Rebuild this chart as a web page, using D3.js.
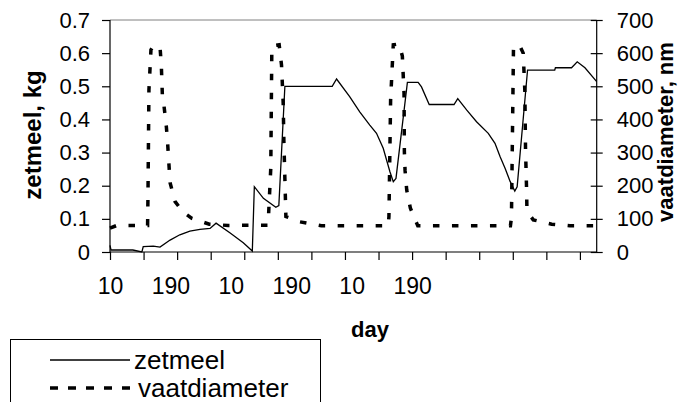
<!DOCTYPE html>
<html>
<head>
<meta charset="utf-8">
<script src="https://cdn.jsdelivr.net/npm/d3@7"></script>
<style>
  body { margin: 0; background: #fff; }
  text { font-family: Arial, "Liberation Sans", sans-serif; fill: #000; }
</style>
</head>
<body>
<div id="chart"></div>
<script>
// x = day index from the first sample, labels show day of year
var labelDays = [0, 180, 360, 540, 720, 900];
var labelText = ["10", "190", "10", "190", "10", "190"];
var tickDays = [0, 100, 200, 300, 400, 500, 600, 700, 800, 900, 1000, 1100, 1200, 1300, 1400];
var leftTicks = [0, 0.1, 0.2, 0.3, 0.4, 0.5, 0.6, 0.7];
var rightTicks = [0, 100, 200, 300, 400, 500, 600, 700];

// zetmeel, kg
var zetDays = [0, 3, 68, 95, 99, 129, 149, 179, 208, 238, 268, 298, 316, 357, 397, 424,
  430, 457, 494, 503, 521, 662, 675, 714, 744, 774, 794, 814, 834, 844, 852, 886, 918,
  928, 951, 1025, 1036, 1063, 1092, 1127, 1147, 1162, 1177, 1192, 1206, 1213, 1244,
  1325, 1327, 1375, 1392, 1415, 1450];
var zetVals = [0.02, 0.006, 0.006, 0, 0.016, 0.018, 0.015, 0.036, 0.052, 0.063, 0.068, 0.071, 0.087, 0.058, 0.028, 0.003,
  0.197, 0.162, 0.135, 0.14, 0.5, 0.5, 0.522, 0.469, 0.423, 0.383, 0.358, 0.313, 0.242, 0.212, 0.222, 0.512, 0.512,
  0.498, 0.445, 0.445, 0.463, 0.428, 0.393, 0.358, 0.328, 0.288, 0.253, 0.213, 0.184, 0.197, 0.549,
  0.549, 0.556, 0.556, 0.574, 0.556, 0.514];

// vaatdiameter, nm
var vaatDays = [0, 20, 112, 113, 116, 122, 128, 149, 153, 156, 161, 168, 172, 179, 194, 217, 243, 296, 352,
  471, 479, 482, 485, 504, 511, 516, 518, 521, 524, 566, 630,
  829, 831, 836, 844, 861, 871, 876, 877, 879, 884, 895, 917,
  1193, 1196, 1202, 1209, 1221, 1231, 1236, 1238, 1241, 1242, 1248, 1261, 1316, 1370, 1450];
var vaatVals = [72, 80, 80, 157, 489, 610, 620, 620, 561, 474, 440, 377, 323, 209, 152, 121, 102, 84, 80,
  81, 253, 600, 622, 625, 564, 449, 335, 222, 107, 91, 79,
  79, 107, 459, 625, 628, 591, 479, 303, 247, 187, 132, 79,
  79, 103, 610, 626, 622, 600, 484, 308, 192, 137, 115, 97, 84, 79, 79];

var width = 678, height = 402;
var plotL = 110, plotR = 596.7, plotT = 20, plotB = 252;

var svg = d3.select("#chart").append("svg").attr("width", width).attr("height", height);

var x = d3.scaleLinear().domain([0, 1450]).range([plotL, plotR]);
var yL = d3.scaleLinear().domain([0, 0.7]).range([plotB, plotT]);
var yR = d3.scaleLinear().domain([0, 700]).range([plotB, plotT]);

// top border
svg.append("line").attr("x1", plotL).attr("x2", plotR).attr("y1", plotT).attr("y2", plotT)
  .attr("stroke", "#808080").attr("stroke-width", 1);

// left axis
var gL = svg.append("g").attr("transform", "translate(" + plotL + ",0)")
  .call(d3.axisLeft(yL).tickValues(leftTicks).tickSize(8).tickPadding(12)
    .tickFormat(function(d){ return d === 0 ? "0" : d3.format(".1f")(d); }));
// right axis
var gR = svg.append("g").attr("transform", "translate(" + plotR + ",0)")
  .call(d3.axisRight(yR).tickValues(rightTicks).tickSize(6).tickPadding(14).tickFormat(d3.format("d")));
gR.selectAll(".tick line").attr("x1", -6);
// x axis ticks
var gX = svg.append("g").attr("transform", "translate(0," + plotB + ")")
  .call(d3.axisBottom(x).tickValues(tickDays).tickSize(8).tickFormat(""));
// x labels
var gX2 = svg.append("g").attr("transform", "translate(0," + plotB + ")")
  .call(d3.axisBottom(x).tickValues(labelDays).tickSize(0).tickPadding(26)
    .tickFormat(function(d, i){ return labelText[i]; }));
gX2.select(".domain").remove();

[gL, gR, gX, gX2].forEach(function(g){
  g.selectAll("text").attr("font-size", 22).attr("font-family", "Arial, 'Liberation Sans', sans-serif").attr("fill", "#000");
  g.selectAll("line, path").attr("stroke", "#000").attr("stroke-width", 1.2);
});
gX2.selectAll("text").attr("font-size", 23);
gL.select(".domain").attr("d", "M0," + plotB + "V" + plotT);
gR.select(".domain").attr("d", "M0," + plotB + "V" + plotT);
gX.select(".domain").attr("d", "M" + plotL + ",0H" + plotR);

// series
var zetLine = d3.line().x(function(d){ return x(d[0]); }).y(function(d){ return yL(d[1]); });
var vaatLine = d3.line().x(function(d){ return x(d[0]); }).y(function(d){ return yR(d[1]); });

svg.append("path").datum(d3.zip(vaatDays, vaatVals)).attr("d", vaatLine)
  .attr("fill", "none").attr("stroke", "#000").attr("stroke-width", 3.5)
  .attr("stroke-dasharray", "6.5,12.5");
svg.append("path").datum(d3.zip(zetDays, zetVals)).attr("d", zetLine)
  .attr("fill", "none").attr("stroke", "#000").attr("stroke-width", 1.3);

// axis titles
svg.append("text").attr("transform", "translate(41,135) rotate(-90)").attr("text-anchor", "middle")
  .attr("font-size", 24).attr("font-weight", "bold").text("zetmeel, kg");
svg.append("text").attr("transform", "translate(673,132) rotate(-90)").attr("text-anchor", "middle")
  .attr("font-size", 22).attr("font-weight", "bold").text("vaatdiameter, nm");
svg.append("text").attr("x", 370).attr("y", 337).attr("text-anchor", "middle")
  .attr("font-size", 22).attr("font-weight", "bold").text("day");

// legend
var leg = svg.append("g");
leg.append("rect").attr("x", 10.5).attr("y", 339.5).attr("width", 310).attr("height", 80)
  .attr("fill", "none").attr("stroke", "#000").attr("stroke-width", 1);
leg.append("line").attr("x1", 50).attr("x2", 130).attr("y1", 360).attr("y2", 360)
  .attr("stroke", "#000").attr("stroke-width", 1.3);
leg.append("text").attr("x", 134).attr("y", 369).attr("font-size", 26).text("zetmeel");
leg.append("line").attr("x1", 50).attr("x2", 136).attr("y1", 388).attr("y2", 388)
  .attr("stroke", "#000").attr("stroke-width", 3.5).attr("stroke-dasharray", "8,10");
leg.append("text").attr("x", 138).attr("y", 397).attr("font-size", 26).text("vaatdiameter");
</script>
</body>
</html>
